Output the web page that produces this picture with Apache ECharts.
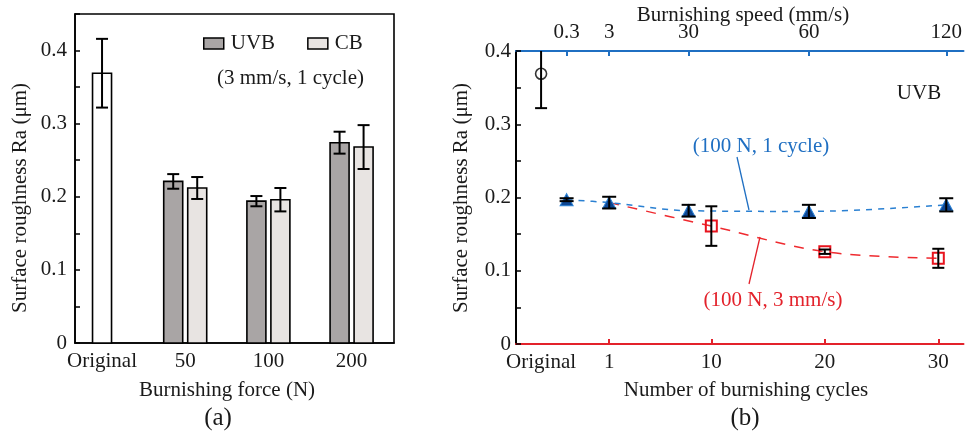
<!DOCTYPE html>
<html>
<head>
<meta charset="utf-8">
<script src="https://cdn.jsdelivr.net/npm/echarts@6/dist/echarts.min.js"></script>
<style>
  html, body { margin: 0; padding: 0; background: #fff; }
  #chart { width: 965px; height: 435px; }
</style>
</head>
<body>
<div id="chart"></div>
<script>
// ---- (a) Surface roughness versus burnishing force (3 mm/s, 1 cycle) ----
const forceLabels = ['Original', '50', '100', '200'];
const originalRa = 0.369;
const originalErr = 0.047;
const uvbForceRa = [0.221, 0.194, 0.274];
const uvbForceErr = [0.010, 0.007, 0.015];
const cbForceRa = [0.212, 0.196, 0.268];
const cbForceErr = [0.015, 0.016, 0.030];

// ---- (b) UVB: burnishing speed (100 N, 1 cycle) and cycles (100 N, 3 mm/s) ----
const speedLabels = ['0.3', '3', '30', '60', '120'];
const speedSlots = [-2.75, 1, 8, 18.6, 30.7];   // place of each speed along the shared horizontal scale
const speedRa = [0.197, 0.193, 0.182, 0.181, 0.190];
const speedErr = [0.002, 0.008, 0.008, 0.009, 0.009];
const cycleTicks = [1, 10, 20, 30];
const cycles = [1, 10, 20, 30];
const cycleRa = [0.193, 0.161, 0.126, 0.117];
const cycleErr = [0, 0.027, 0.003, 0.013];
const originalSlot = -5;

const FONT = '"Liberation Serif", "Times New Roman", serif';
const INK = '#1a1a1a';

// bar with error bar, drawn through the axis scales
function barRenderer(offsetPx, widthPx) {
  return function (params, api) {
    const x = api.value(0), y = api.value(1), e = api.value(2);
    const base = api.coord([x, 0]);
    const top = api.coord([x, y]);
    const hi = api.coord([x, y + e]);
    const lo = api.coord([x, y - e]);
    const cx = base[0] + offsetPx;
    const fill = api.visual('color');
    const ln = { stroke: '#000', lineWidth: 2 };
    const cap = 6;
    return {
      type: 'group',
      children: [
        { type: 'rect', shape: { x: cx - widthPx / 2, y: top[1], width: widthPx, height: base[1] - top[1] },
          style: { fill: fill, stroke: '#000', lineWidth: 1.6 } },
        { type: 'line', shape: { x1: cx, y1: hi[1], x2: cx, y2: lo[1] }, style: ln },
        { type: 'line', shape: { x1: cx - cap, y1: hi[1], x2: cx + cap, y2: hi[1] }, style: ln },
        { type: 'line', shape: { x1: cx - cap, y1: lo[1], x2: cx + cap, y2: lo[1] }, style: ln }
      ]
    };
  };
}

// error bar only; the upper end is held inside the axis top
function errRenderer(cap, yTop) {
  return function (params, api) {
    const x = api.value(0), y = api.value(1), e = api.value(2);
    const upper = Math.min(y + e, yTop);
    const hi = api.coord([x, upper]);
    const lo = api.coord([x, y - e]);
    const ln = { stroke: '#000', lineWidth: 2 };
    const kids = [
      { type: 'line', shape: { x1: hi[0], y1: hi[1], x2: lo[0], y2: lo[1] }, style: ln },
      { type: 'line', shape: { x1: lo[0] - cap, y1: lo[1], x2: lo[0] + cap, y2: lo[1] }, style: ln }
    ];
    if (y + e <= yTop) {
      kids.push({ type: 'line', shape: { x1: hi[0] - cap, y1: hi[1], x2: hi[0] + cap, y2: hi[1] }, style: ln });
    }
    return { type: 'group', children: kids };
  };
}

function nearestLabel(v, slots, labels) {
  for (let i = 0; i < slots.length; i++) {
    if (Math.abs(v - slots[i]) < 1e-6) return labels[i];
  }
  return '';
}

function yLabel(v) {
  const h = Math.round(v * 100);
  if (h % 10 !== 0 || h > 40) return '';
  return h === 0 ? '0' : (h / 100).toFixed(1);
}

const chart = echarts.init(document.getElementById('chart'), null, { renderer: 'canvas' });

const option = {
  animation: false,
  backgroundColor: '#fff',
  textStyle: { fontFamily: FONT },
  legend: {
    left: 198, top: 28,
    itemWidth: 20, itemHeight: 11, itemGap: 32,
    selectedMode: false,
    textStyle: { fontFamily: FONT, fontSize: 21, color: INK, padding: [0, 0, 0, 2] },
    data: [
      { name: 'UVB', icon: 'rect', itemStyle: { color: '#a9a5a5', borderColor: '#000', borderWidth: 1.5 } },
      { name: 'CB', icon: 'rect', itemStyle: { color: '#e8e4e2', borderColor: '#000', borderWidth: 1.5 } }
    ]
  },
  grid: [
    { left: 75, top: 14, width: 319, height: 329, show: true, borderColor: '#000', borderWidth: 1.6, backgroundColor: 'transparent' },
    { left: 516, top: 51, right: 1, height: 293 }
  ],
  xAxis: [
    {
      gridIndex: 0, type: 'value', min: -0.325, max: 3.51,
      axisLine: { show: true, onZero: false, lineStyle: { color: '#000', width: 1.6 } },
      axisTick: { show: false },
      splitLine: { show: false },
      axisLabel: {
        customValues: [0, 1, 2, 3],
        formatter: v => forceLabels[Math.round(v)],
        margin: 8, fontFamily: FONT, fontSize: 21, color: INK
      }
    },
    {
      gridIndex: 1, type: 'value', position: 'bottom', min: -7.21, max: 32.22,
      axisLine: { show: true, onZero: false, lineStyle: { color: '#e3222b', width: 2 } },
      axisTick: { show: true, inside: true, length: 5, customValues: cycleTicks, lineStyle: { color: '#e3222b', width: 2 } },
      splitLine: { show: false },
      axisLabel: {
        customValues: [originalSlot].concat(cycleTicks),
        formatter: v => (Math.abs(v - originalSlot) < 1e-6 ? 'Original' : String(Math.round(v))),
        margin: 8, fontFamily: FONT, fontSize: 21, color: INK
      }
    },
    {
      gridIndex: 1, type: 'value', position: 'top', min: -7.21, max: 32.22,
      axisLine: { show: true, onZero: false, lineStyle: { color: '#1f6fc2', width: 2 } },
      axisTick: { show: true, inside: true, length: 5, customValues: speedSlots, lineStyle: { color: '#1f6fc2', width: 2 } },
      splitLine: { show: false },
      axisLabel: {
        customValues: speedSlots,
        formatter: v => nearestLabel(v, speedSlots, speedLabels),
        margin: 8, fontFamily: FONT, fontSize: 21, color: INK
      }
    }
  ],
  yAxis: [
    {
      gridIndex: 0, type: 'value', min: 0, max: 0.45, interval: 0.05,
      axisLine: { show: true, onZero: false, lineStyle: { color: '#000', width: 1.6 } },
      axisTick: { show: true, inside: true, length: 5, lineStyle: { color: '#000', width: 1.5 } },
      splitLine: { show: false },
      axisLabel: { formatter: yLabel, margin: 8, fontFamily: FONT, fontSize: 21, color: INK }
    },
    {
      gridIndex: 1, type: 'value', min: 0, max: 0.4, interval: 0.05,
      axisLine: { show: true, onZero: false, lineStyle: { color: '#000', width: 2 } },
      axisTick: { show: true, inside: true, length: 5, lineStyle: { color: '#000', width: 1.5 } },
      splitLine: { show: false },
      axisLabel: { formatter: yLabel, margin: 5, fontFamily: FONT, fontSize: 21, color: INK }
    }
  ],
  series: [
    // (a) bars
    {
      name: 'Original', type: 'custom', xAxisIndex: 0, yAxisIndex: 0,
      itemStyle: { color: '#ffffff' },
      renderItem: barRenderer(0, 19),
      encode: { x: 0, y: 1 },
      data: [[0, originalRa, originalErr]]
    },
    {
      name: 'UVB', type: 'custom', xAxisIndex: 0, yAxisIndex: 0,
      itemStyle: { color: '#a9a5a5' },
      renderItem: barRenderer(-12, 19),
      encode: { x: 0, y: 1 },
      data: uvbForceRa.map((v, i) => [i + 1, v, uvbForceErr[i]])
    },
    {
      name: 'CB', type: 'custom', xAxisIndex: 0, yAxisIndex: 0,
      itemStyle: { color: '#e8e4e2' },
      renderItem: barRenderer(12, 19),
      encode: { x: 0, y: 1 },
      data: cbForceRa.map((v, i) => [i + 1, v, cbForceErr[i]])
    },
    // (b) cycles series (red)
    {
      name: 'cycles', type: 'line', xAxisIndex: 1, yAxisIndex: 1, z: 2,
      smooth: 0.35,
      lineStyle: { color: '#ef2a2f', width: 1.5, type: [10, 9] },
      symbol: 'rect', symbolSize: 11,
      itemStyle: { color: 'rgba(255,255,255,0)', borderColor: '#e8141e', borderWidth: 2 },
      data: cycles.map((c, i) => (i === 0 ? { value: [c, cycleRa[i]], symbol: 'none' } : [c, cycleRa[i]]))
    },
    // (b) speed series (blue)
    {
      name: 'speed', type: 'line', xAxisIndex: 2, yAxisIndex: 1, z: 3,
      smooth: 0.35,
      lineStyle: { color: '#2a80d2', width: 1.5, type: [6, 6] },
      symbol: 'triangle', symbolSize: [13, 12],
      itemStyle: { color: '#0d4693', borderColor: '#2a80d4', borderWidth: 1 },
      data: speedSlots.map((s, i) => [s, speedRa[i]])
    },
    // (b) original
    {
      name: 'original', type: 'scatter', xAxisIndex: 1, yAxisIndex: 1, z: 3,
      symbol: 'circle', symbolSize: 11,
      itemStyle: { color: 'rgba(255,255,255,0)', borderColor: '#000', borderWidth: 1.6 },
      data: [[originalSlot, originalRa]]
    },
    // (b) error bars
    {
      name: 'originalErr', type: 'custom', xAxisIndex: 1, yAxisIndex: 1, z: 4,
      renderItem: errRenderer(6, 0.4), encode: { x: 0, y: 1 },
      data: [[originalSlot, originalRa, originalErr]]
    },
    {
      name: 'speedErr', type: 'custom', xAxisIndex: 2, yAxisIndex: 1, z: 4,
      renderItem: errRenderer(7, 0.4), encode: { x: 0, y: 1 },
      data: speedSlots.map((s, i) => [s, speedRa[i], speedErr[i]])
    },
    {
      name: 'cycleErr', type: 'custom', xAxisIndex: 1, yAxisIndex: 1, z: 4,
      renderItem: errRenderer(6, 0.4), encode: { x: 0, y: 1 },
      data: cycles.slice(1).map((c, i) => [c, cycleRa[i + 1], cycleErr[i + 1]])
    }
  ],
  graphic: [
    // axis titles and panel tags
    { type: 'text', x: 20, y: 198, rotation: Math.PI / 2,
      style: { text: 'Surface roughness Ra (μm)', align: 'center', verticalAlign: 'middle', font: '21px ' + FONT, fill: INK } },
    { type: 'text', x: 461, y: 198, rotation: Math.PI / 2,
      style: { text: 'Surface roughness Ra (μm)', align: 'center', verticalAlign: 'middle', font: '21px ' + FONT, fill: INK } },
    { type: 'text', x: 227, y: 390,
      style: { text: 'Burnishing force (N)', align: 'center', verticalAlign: 'middle', font: '21px ' + FONT, fill: INK } },
    { type: 'text', x: 746, y: 390,
      style: { text: 'Number of burnishing cycles', align: 'center', verticalAlign: 'middle', font: '21px ' + FONT, fill: INK } },
    { type: 'text', x: 743, y: 15,
      style: { text: 'Burnishing speed (mm/s)', align: 'center', verticalAlign: 'middle', font: '21px ' + FONT, fill: INK } },
    { type: 'text', x: 218, y: 418,
      style: { text: '(a)', align: 'center', verticalAlign: 'middle', font: '25px ' + FONT, fill: INK } },
    { type: 'text', x: 745, y: 418,
      style: { text: '(b)', align: 'center', verticalAlign: 'middle', font: '25px ' + FONT, fill: INK } },
    // notes
    { type: 'text', x: 217, y: 78,
      style: { text: '(3 mm/s, 1 cycle)', align: 'left', verticalAlign: 'middle', font: '21px ' + FONT, fill: INK } },
    { type: 'text', x: 919, y: 93,
      style: { text: 'UVB', align: 'center', verticalAlign: 'middle', font: '21px ' + FONT, fill: INK } },
    { type: 'text', x: 761, y: 146,
      style: { text: '(100 N, 1 cycle)', align: 'center', verticalAlign: 'middle', font: '21px ' + FONT, fill: '#1f6fc2' } },
    { type: 'line', shape: { x1: 737, y1: 157, x2: 749, y2: 210 }, style: { stroke: '#1f6fc2', lineWidth: 1.3 } },
    { type: 'text', x: 773, y: 300,
      style: { text: '(100 N, 3 mm/s)', align: 'center', verticalAlign: 'middle', font: '21px ' + FONT, fill: '#e3222b' } },
    { type: 'line', shape: { x1: 749, y1: 284, x2: 760, y2: 237 }, style: { stroke: '#e3222b', lineWidth: 1.3 } }
  ]
};

chart.setOption(option);
</script>
</body>
</html>
